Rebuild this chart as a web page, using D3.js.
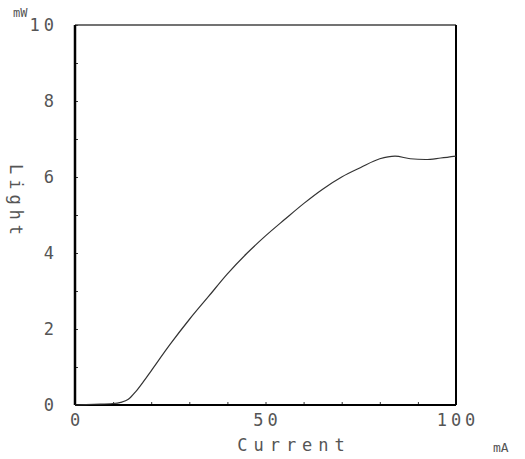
<!DOCTYPE html>
<html>
<head>
<meta charset="utf-8">
<script src="https://cdn.jsdelivr.net/npm/d3@7"></script>
<style>
body { margin: 0; background: #fff; }
text { font-family: "DejaVu Sans Mono", monospace; fill: #555; }
</style>
</head>
<body>
<div class="chart"></div>
<script>
// Werte
const current = [0, 5, 10, 12, 14, 16, 18, 20, 25, 30, 35, 40, 45, 50, 55, 60, 65, 70, 75, 80, 84, 88, 92, 96, 100];
const light = [0, 0.02, 0.04, 0.07, 0.15, 0.36, 0.62, 0.9, 1.6, 2.25, 2.85, 3.45, 3.98, 4.45, 4.88, 5.3, 5.68, 6.0, 6.25, 6.48, 6.55, 6.48, 6.46, 6.5, 6.55];
const xTicks = [0, 50, 100];
const yTicks = [0, 2, 4, 6, 8, 10];

const svg = d3.select('.chart').append('svg')
  .attr('width', 525)
  .attr('height', 459);

const x = d3.scaleLinear().domain([0, 100]).range([75, 456]);
const y = d3.scaleLinear().domain([0, 10]).range([405, 25]);

// kleine ticks nach innen
svg.append('g')
  .attr('transform', 'translate(0,405)')
  .call(d3.axisTop(x).tickValues(d3.range(0, 101, 10)).tickSize(3).tickFormat(''))
  .call(g => g.select('.domain').remove())
  .selectAll('line').attr('stroke', '#333');

svg.append('g')
  .attr('transform', 'translate(75,0)')
  .call(d3.axisRight(y).tickValues(d3.range(0, 11, 1)).tickSize(3).tickFormat(''))
  .call(g => g.select('.domain').remove())
  .selectAll('line').attr('stroke', '#333');

// rahmen
svg.append('line').attr('x1', x(0)).attr('x2', x(100)).attr('y1', y(10)).attr('y2', y(10))
  .attr('stroke', '#444').attr('stroke-width', 1.5);
svg.append('line').attr('x1', x(100)).attr('x2', x(100)).attr('y1', y(10)).attr('y2', y(0))
  .attr('stroke', '#000').attr('stroke-width', 2);
svg.append('line').attr('x1', x(0)).attr('x2', x(100)).attr('y1', y(0)).attr('y2', y(0))
  .attr('stroke', '#000').attr('stroke-width', 2);
svg.append('line').attr('x1', x(0)).attr('x2', x(0)).attr('y1', y(10)).attr('y2', y(0))
  .attr('stroke', '#000').attr('stroke-width', 2.5);

// kurve
const line = d3.line()
  .x((d, i) => x(current[i]))
  .y(d => y(d))
  .curve(d3.curveMonotoneX);

svg.append('path')
  .datum(light)
  .attr('d', line)
  .attr('fill', 'none')
  .attr('stroke', '#333')
  .attr('stroke-width', 1.2);

// tick labels
svg.selectAll('text.xt')
  .data(xTicks)
  .enter()
  .append('text')
  .attr('class', 'xt')
  .attr('x', d => x(d) + 2)
  .attr('y', 426)
  .attr('text-anchor', 'middle')
  .attr('font-size', 17)
  .attr('letter-spacing', 4)
  .text(d => d);

svg.selectAll('text.yt')
  .data(yTicks)
  .enter()
  .append('text')
  .attr('class', 'yt')
  .attr('x', 58)
  .attr('y', d => y(d) + 6)
  .attr('text-anchor', 'end')
  .attr('font-size', 17)
  .attr('letter-spacing', 4)
  .text(d => d);

svg.append('text')
  .attr('x', 294)
  .attr('y', 451)
  .attr('text-anchor', 'middle')
  .attr('font-size', 17)
  .attr('letter-spacing', 6)
  .text('Current');

svg.append('text')
  .attr('x', 493)
  .attr('y', 452)
  .attr('font-size', 13)
  .text('mA');

svg.append('text')
  .attr('transform', 'translate(10,202) rotate(90)')
  .attr('text-anchor', 'middle')
  .attr('font-size', 17)
  .attr('letter-spacing', 5)
  .text('Light');

svg.append('text')
  .attr('x', 13)
  .attr('y', 17)
  .attr('font-size', 12)
  .text('mW');
</script>
</body>
</html>
